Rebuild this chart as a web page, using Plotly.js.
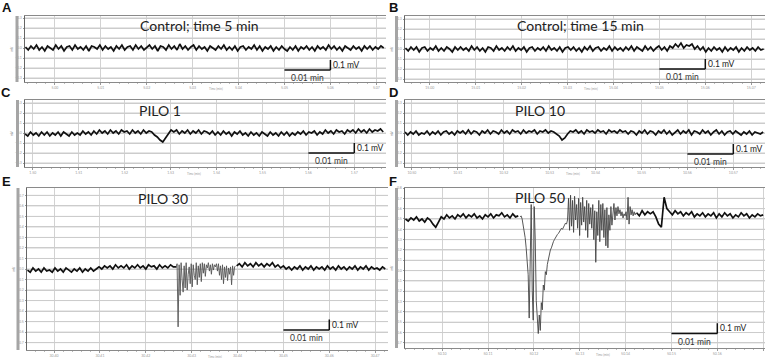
<!DOCTYPE html>
<html><head><meta charset="utf-8">
<script src="https://cdn.plot.ly/plotly-3.0.1.min.js"></script>
<style>html,body{margin:0;padding:0;background:#fff}#chart{width:767px;height:358px}</style>
</head><body><div id="chart"></div>
<script>
// ---------------- DATA ----------------
const panelLetters = ['A','B','C','D','E','F'];
const panelTitles = ['Control; time 5 min','Control; time 15 min','PILO 1','PILO 10','PILO 30','PILO 50'];
const scaleTimeLabel = '0.01 min';
const scaleVoltLabel = '0.1 mV';
const xAxisLabel = 'Time (min)';
const yAxisLabel = 'mV';
// start time (min) of each recording window and sampling steps (min)
const startTimes = [4.9936, 14.9947, 1.4983, 10.4985, 30.3942, 50.0920];
const sampleStep = 0.0006;
const burstStep = 0.00022;
const burstStartE = 30.4266;
const burstStartF = 50.1170;

// voltage (mV)
const traceA = [0.01,-0.02,0.02,-0.01,0.03,-0.02,0.01,-0.03,0.02,0,
-0.02,0.03,-0.01,0.02,-0.03,0.01,0.02,-0.02,0.03,-0.01,
0.01,-0.02,0.02,-0.03,0.02,0.01,-0.01,0.03,-0.02,0.02,
-0.01,0.01,-0.03,0.02,-0.01,0.03,-0.02,0.01,0.02,-0.02,
0.03,-0.01,0.02,-0.02,0.01,0.03,-0.01,0.02,-0.03,0.02,
0.01,-0.02,0.03,-0.01,0.02,-0.02,0.04,-0.01,0.02,-0.02,
0.01,0.03,-0.02,0.02,-0.01,0.01,-0.03,0.02,0,-0.02,
0.02,-0.01,0.03,-0.02,0.01,-0.02,0.02,-0.03,0.01,0.02,
-0.02,0.01,-0.01,0.03,-0.02,0.02,-0.03,0.01,-0.01,0.02,
-0.03,0.01,-0.02,0.02,-0.01,-0.03,0.01,-0.02,0.02,-0.03,
0.01,-0.01,0.02,-0.02,0.01,-0.03,0.02,-0.01,0.01,-0.02,
0.03,-0.01,0.02,-0.02,0.01,-0.03,0.02,0,-0.02,0.02,
-0.01,0.01,-0.03,0.02,-0.01,0.02,-0.02,0.01,-0.01,0.02,0];

const traceB = [0.01,-0.02,0.02,-0.01,0.02,-0.03,0.01,0.02,-0.02,0.01,
-0.01,0.03,-0.02,0.01,-0.02,0.02,0,-0.03,0.02,-0.01,
0.02,-0.01,0.01,-0.02,0.03,-0.01,0.02,-0.02,0.01,-0.03,
0.02,0.01,-0.02,0.03,-0.01,0.01,-0.02,0.02,-0.01,0.03,
-0.02,0.01,-0.01,0.02,-0.03,0.01,0.02,-0.02,0.01,-0.01,
0.02,-0.02,0.03,-0.01,0.01,-0.02,0.02,-0.03,0.01,0.02,
-0.01,0.02,-0.02,0.01,-0.03,0.02,-0.01,0.03,-0.02,0.01,
0.02,-0.02,0.01,-0.01,0.03,-0.02,0.02,-0.01,0.01,-0.02,
0.02,-0.01,0.03,-0.02,0.02,0,-0.02,0.03,-0.01,0.02,
-0.02,0.01,0.03,-0.01,0.02,-0.02,0.03,0.01,0.05,0.02,
0.06,0.01,0.04,0.03,0.05,0,0.03,-0.01,0.02,-0.03,
0.01,-0.02,0.02,-0.01,0.01,-0.03,0.02,-0.02,0.01,-0.01,
0.02,-0.03,0.01,-0.02,0.02,-0.01,0.01,-0.02,0.02,-0.01,0];

const traceC = [-0.01,-0.03,0.01,-0.02,0,-0.03,0.01,-0.02,0.01,-0.03,
0,-0.02,0.01,-0.03,0.01,-0.01,-0.03,0.01,-0.02,0,
-0.02,0.02,-0.01,0.01,-0.02,0.02,-0.01,0.03,0,0.02,
-0.01,0.03,0,0.02,-0.01,0.03,0.01,0.02,-0.01,0.03,
0,0.02,-0.01,0.03,0,0.02,0.01,-0.02,-0.04,-0.07,
-0.09,-0.05,-0.01,0.03,0.01,0.03,-0.01,0.02,0,0.03,
-0.01,0.02,0,0.03,-0.01,0.02,0.01,-0.01,0.02,-0.02,
0.01,-0.02,0.02,-0.01,0.01,-0.03,0.01,-0.01,0.02,-0.02,
0,-0.03,0.01,-0.02,0,-0.03,0.01,-0.01,-0.03,0.01,
-0.02,0,-0.03,0.01,-0.02,0.01,-0.03,0,-0.02,0.01,
-0.01,0.02,-0.02,0.01,0,0.02,-0.02,0.01,-0.01,0.03,
0,0.02,-0.01,0.03,0.01,0.02,-0.01,0.03,0.01,0.03,
0,0.04,0.01,0.03,0,0.04,0.01,0.03,0.02,0.04,0.01];

const traceD = [0.01,-0.02,0.01,-0.01,0.02,-0.02,0,-0.01,0.02,-0.02,
0.01,-0.01,0.02,-0.02,0.01,0.02,-0.01,0.01,-0.02,0.02,
0,0.02,-0.01,0.03,-0.01,0.02,0.01,-0.02,0.02,0,
0.03,-0.01,0.02,0.01,-0.01,0.03,0,0.02,-0.01,0.03,
0.01,0.02,-0.01,0.03,0,0.02,0.01,0.03,-0.01,0.02,
0.01,0.03,0,0.02,0.01,-0.01,-0.03,-0.07,-0.05,-0.01,
0.02,0.01,0.03,0,0.02,-0.01,0.03,0.01,0.02,0,
0.03,0.01,0.02,-0.01,0.03,0.01,0.02,0,0.03,0.01,
0.02,-0.01,0.02,0.01,-0.02,0.02,0,0.03,-0.01,0.02,
0.01,-0.02,0.02,0,0.03,-0.01,0.02,-0.02,0.01,0.03,
-0.01,0.02,0,0.03,-0.02,0.02,0.01,-0.01,0.03,0,
0.02,-0.02,0.01,0.03,-0.01,0.02,-0.02,0.01,0.02,-0.01,
0.02,0,-0.02,0.01,-0.01,0.02,-0.02,0.01,0,-0.01,0.01];

const traceE = [-0.01,-0.03,0.01,-0.02,0,-0.03,0.01,-0.02,-0.01,-0.03,
0.01,-0.02,0,-0.03,0.01,-0.01,-0.03,0,-0.02,0.01,
-0.03,0,-0.02,0.01,-0.02,0,0.02,0,0.03,0.01,
0.03,0,0.04,0.01,0.03,0.01,0.04,0,0.03,0.01,
0.04,0.01,0.03,0,0.04,0.02,0.03,0,0.04,0.01,
0.03,0.01,0.04,0.02,0.02,null,null,null,null,null,
null,null,null,null,null,null,null,null,null,null,
null,null,null,null,null,null,0.03,0.05,0.02,0.06,
0.03,0.05,0.02,0.06,0.03,0.05,0.02,0.05,0.03,0.06,
0.02,0.04,0.01,0.03,0,0.02,-0.01,0.02,0,0.03,
-0.01,0.02,0,0.03,-0.01,0.02,0,0.02,-0.01,0.03,
0,0.02,-0.01,0.03,0,0.02,-0.01,0.02,0,0.03,
-0.01,0.02,0,0.03,-0.01,0.02,0,0.01,-0.01,0.02,0];

const burstE = [0.01,0.05,-0.55,0.04,-0.25,0.06,-0.10,-0.22,0.03,-0.18,
0.06,-0.20,-0.05,0.02,-0.14,0.05,-0.17,0.04,-0.06,-0.10,
0.06,-0.15,0.03,-0.08,0.05,-0.12,0.06,-0.04,0.05,-0.07,
0.04,0.01,0.06,-0.02,0.04,-0.05,0.05,-0.01,0.04,0.02,
0.05,-0.02,0.05,-0.06,0.03,-0.10,0.04,-0.14,0.02,-0.08,
0.03,-0.11,0.01,-0.05,0.02,-0.15,0.03,-0.06,0.02,0.03];

const traceF = [0.50,0.48,0.51,0.49,0.52,0.48,0.50,0.47,0.51,0.49,
0.45,0.42,0.47,0.52,0.50,0.54,0.51,0.53,0.50,0.54,
0.52,0.55,0.51,0.54,0.52,0.55,0.51,0.53,0.50,0.54,
0.52,0.55,0.51,0.54,0.53,0.56,0.52,0.54,0.51,0.55,
0.52,0.53,null,null,null,null,null,null,null,null,
null,null,null,null,null,null,null,null,null,null,
null,null,null,null,null,null,null,null,null,null,
null,null,null,null,null,null,null,null,null,null,
null,null,null,null,0.56,0.53,0.58,0.54,0.57,0.55,
0.57,0.52,0.45,0.42,0.71,0.60,0.57,0.54,0.58,0.55,
0.57,0.53,0.56,0.54,0.57,0.52,0.55,0.53,0.56,0.52,
0.55,0.53,0.56,0.51,0.55,0.52,0.56,0.53,0.55,0.51,
0.54,0.52,0.56,0.53,0.55,0.51,0.54,0.52,0.55,0.53,0.54];

const burstF = [0.52,0.53,0.50,0.45,0.39,0.32,0.22,0.12,-0.04,-0.46,
0.00,0.64,-0.19,-0.48,0.62,0.30,-0.29,-0.53,-0.61,-0.43,
-0.58,-0.31,-0.38,-0.14,-0.19,-0.01,-0.04,0.06,0.12,0.15,
0.20,0.22,0.26,0.28,0.30,0.32,0.33,0.35,0.36,0.38,
0.39,0.41,0.40,0.43,0.44,0.46,0.45,0.49,0.70,0.39,
0.73,0.43,0.68,0.37,0.72,0.49,0.64,0.41,0.70,0.34,
0.66,0.44,0.71,0.47,0.62,0.39,0.68,0.32,0.65,0.45,
0.61,0.41,0.64,0.30,0.58,0.08,0.57,0.34,0.68,0.28,
0.64,0.39,0.65,0.32,0.59,0.24,0.61,0.22,0.54,0.39,
0.62,0.44,0.57,0.65,0.49,0.61,0.53,0.62,0.55,0.59,
0.53,0.57,0.51,0.55,0.53,0.57,0.49,0.71,0.45,0.62,
0.54,0.59,0.53,0.57,0.54,0.56];

const panelTraces = [traceA, traceB, traceC, traceD, traceE, traceF];

// ---------------- LAYOUT (positions / styles) ----------------
const W = 767, H = 358;
const px = v => v / W;
const py = v => 1 - v / H;

const panels = [
  {box:[25,386,16,82],  xr:[4.9935,5.0721],   yr:[-0.34,0.32], tick0:5.00,  letter:[7,8],    title:[199,26],  bar:[15.5,18.5], sx:[5.05,5.06],   sy:[-0.22,-0.12]},
  {box:[405,765,16,82], xr:[14.9946,15.0730], yr:[-0.33,0.33], tick0:15.00, letter:[393,8],  title:[580,26],  bar:[395,398],   sx:[15.05,15.06], sy:[-0.20,-0.10]},
  {box:[25,386,100,167],xr:[1.4983,1.5769],   yr:[-0.34,0.33], tick0:1.50,  letter:[6,93],   title:[160,111], bar:[16,19],     sx:[1.56,1.57],   sy:[-0.20,-0.10]},
  {box:[405,765,100,167],xr:[10.4985,10.5769],yr:[-0.34,0.33], tick0:10.50, letter:[393,93], title:[540,111], bar:[395,398],   sx:[10.56,10.57], sy:[-0.21,-0.11]},
  {box:[27,388,188,350],xr:[30.3941,30.4728], yr:[-0.77,0.77], tick0:30.40, letter:[6,181],  title:[163,198], bar:[16.5,19.5], sx:[30.45,30.46], sy:[-0.58,-0.48]},
  {box:[405,765,188,348],xr:[50.0919,50.1704],yr:[-0.75,0.80], tick0:50.10, letter:[393,181],title:[540,197], bar:[395,398],   sx:[50.15,50.16], sy:[-0.61,-0.51]}
];

const layout = {
  width: W, height: H,
  margin: {l:0, r:0, t:0, b:0},
  paper_bgcolor: '#ffffff', plot_bgcolor: 'rgba(0,0,0,0)',
  showlegend: false,
  font: {family: 'Lato, "Open Sans", sans-serif', color: '#222'},
  shapes: [], annotations: []
};
const data = [];

panels.forEach((p, i) => {
  const n = i === 0 ? '' : String(i + 1);
  const xa = 'xaxis' + n, ya = 'yaxis' + n;
  const xr = 'x' + n, yr = 'y' + n;
  layout[xa] = {
    domain: [px(p.box[0]), px(p.box[1])], anchor: yr, range: p.xr,
    tick0: p.tick0, dtick: 0.01, tickformat: '.2f',
    showgrid: true, gridcolor: '#d2d2d2', gridwidth: 1, zeroline: false,
    showline: true, linecolor: '#8a8a8a', linewidth: 1, mirror: true,
    ticks: 'outside', ticklen: 1.5, tickcolor: '#999',
    minor: {ticks: 'outside', ticklen: 1, dtick: 0.002, tickcolor: '#bbb', showgrid: false},
    tickfont: {size: 3.5, color: '#999'},
    automargin: false, fixedrange: true
  };
  layout[ya] = {
    domain: [py(p.box[3]), py(p.box[2])], anchor: xr, range: p.yr,
    tickmode: 'linear', tick0: 0, dtick: 0.1, tickformat: '.1f',
    showgrid: true, gridcolor: '#cccccc', gridwidth: 1, zeroline: false,
    showline: true, linecolor: '#666', linewidth: 1,
    ticks: 'outside', ticklen: 1.5, tickcolor: '#999',
    tickfont: {size: 3.5, color: '#999'},
    title: {text: yAxisLabel, font: {size: 3.5, color: '#777'}, standoff: 1},
    automargin: false, fixedrange: true
  };
  // horizontal grid lines every 0.1 mV drawn across the plot area
  for (let k = Math.ceil(p.yr[0] * 10 + 1e-9); k <= Math.floor(p.yr[1] * 10 - 1e-9); k++) {
    layout.shapes.push({type: 'line', xref: xr + ' domain', yref: yr, x0: 0, x1: 1, y0: k / 10, y1: k / 10,
      line: {color: '#cccccc', width: 1}, layer: 'below'});
  }
  data.push({
    type: 'scatter', mode: 'lines', x0: startTimes[i], dx: sampleStep, y: panelTraces[i],
    xaxis: xr, yaxis: yr, line: {color: '#111', width: 1.7}, connectgaps: false, hoverinfo: 'skip'
  });
  // grey side bar
  layout.shapes.push({type: 'rect', xref: 'paper', yref: 'paper', x0: px(p.bar[0]), x1: px(p.bar[1]),
    y0: py(p.box[3]), y1: py(p.box[2]), fillcolor: '#a5a5a5', line: {width: 0}, layer: 'above'});
  // scale bar
  layout.shapes.push({type: 'line', xref: xr, yref: yr, x0: p.sx[0], x1: p.sx[1], y0: p.sy[0], y1: p.sy[0], line: {color: '#111', width: 1.5}});
  layout.shapes.push({type: 'line', xref: xr, yref: yr, x0: p.sx[1], x1: p.sx[1], y0: p.sy[0], y1: p.sy[1], line: {color: '#111', width: 1.5}});
  layout.annotations.push({xref: xr, yref: yr, x: p.sx[1], y: (p.sy[0] + p.sy[1]) / 2, text: scaleVoltLabel,
    showarrow: false, xanchor: 'left', yanchor: 'middle', xshift: 1, font: {size: 8.5, color: '#222', family: 'Lato, sans-serif'}});
  layout.annotations.push({xref: xr, yref: yr, x: (p.sx[0] + p.sx[1]) / 2, y: p.sy[0], text: scaleTimeLabel,
    showarrow: false, xanchor: 'center', yanchor: 'top', yshift: -1, font: {size: 8.5, color: '#333', family: 'Lato, sans-serif'}});
  // x-axis title (tiny, below the axis, between two tick labels)
  layout.annotations.push({xref: xr, yref: 'paper', x: p.tick0 + 0.035, y: py(p.box[3] + 2.5), text: xAxisLabel,
    showarrow: false, xanchor: 'center', yanchor: 'top', borderpad: 0, font: {size: 3, color: '#999'}});
  // panel letter
  layout.annotations.push({xref: 'paper', yref: 'paper', x: px(p.letter[0]), y: py(p.letter[1]), text: '<b>' + panelLetters[i] + '</b>',
    showarrow: false, xanchor: 'center', yanchor: 'middle', font: {size: 13, color: '#111', family: '"Liberation Sans", Arial, sans-serif'}});
  // panel title
  layout.annotations.push({xref: 'paper', yref: 'paper', x: px(p.title[0]), y: py(p.title[1]), text: panelTitles[i],
    showarrow: false, xanchor: 'center', yanchor: 'middle', font: {size: 14, color: '#222', family: 'Lato, sans-serif'}});
});

data.push({type: 'scatter', mode: 'lines', x0: burstStartE, dx: burstStep, y: burstE, xaxis: 'x5', yaxis: 'y5',
  line: {color: '#555', width: 0.9}, hoverinfo: 'skip'});
data.push({type: 'scatter', mode: 'lines', x0: burstStartF, dx: burstStep, y: burstF, xaxis: 'x6', yaxis: 'y6',
  line: {color: '#444', width: 0.9}, hoverinfo: 'skip'});

Plotly.newPlot('chart', data, layout, {staticPlot: true, displayModeBar: false});
</script>
</body></html>
